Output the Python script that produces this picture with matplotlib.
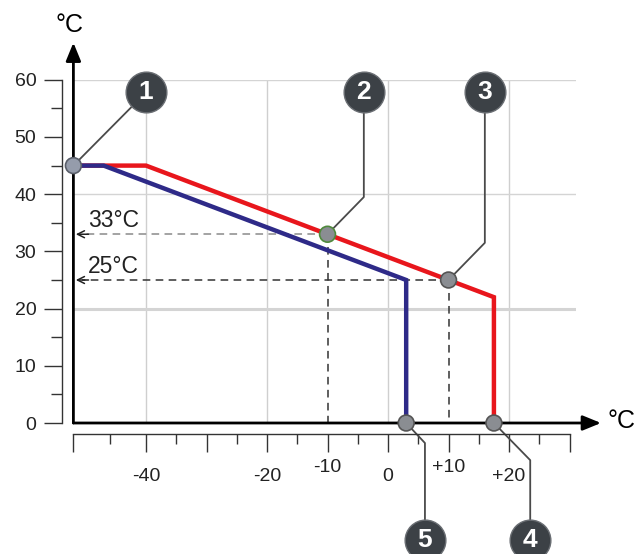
import numpy as np
import matplotlib.pyplot as plt

plt.rcParams["font.family"] = ["Liberation Sans", "DejaVu Sans"]

# heating curves: outdoor temperature -> flow temperature
red_x = [-52, -40, 17.5, 17.5]
red_y = [45, 45, 22, 0]
blue_x = [-52, -47, 3, 3]
blue_y = [45, 45, 25, 0]

# numbered points
pt_x = [-52, -10, 10, 17.5, 3]
pt_y = [45, 33, 25, 0, 0]
pt_num = ["1", "2", "3", "4", "5"]

# read-off values (dashed guides)
read_x = [-10, 10]
read_y = [33, 25]
read_lbl = ["33°C", "25°C"]

# rulers
x_major = [-52, -40, -30, -20, -10, 0, 10, 20, 30]
x_labels = ["", "-40", "", "-20", "-10", "0", "+10", "+20", ""]
x_minor = [-46, -35, -25, -15, -5, 5, 15, 25]
y_major = [0, 10, 20, 30, 40, 50, 60]
y_minor = [5, 15, 25, 35, 45, 55]
grid_x = [-40, -20, 0, 20]
grid_y = [20, 40, 60]

# callout bubbles: centre and elbow of leader line
bubble_xy = [(-40, 57.8), (-4, 57.8), (16, 57.8), (23.5, -20.5), (6.1, -20.5)]
elbow_xy = [None, (-4, 39.5), (16, 31.5), (23.5, -6.5), (6.1, -3.5)]

fig = plt.figure(figsize=(6.37, 5.54), dpi=100)
ax = fig.add_axes([73.4 / 637, 131 / 554, 502.2 / 637, 343.2 / 554])
ax.set_xlim(-52, 31)
ax.set_ylim(0, 60)

for s in ["top", "right"]:
    ax.spines[s].set_visible(False)
ax.spines["left"].set_position(("outward", 8.2))
ax.spines["bottom"].set_position(("outward", 7.9))
ax.spines["left"].set_bounds(0, 60)
ax.spines["bottom"].set_bounds(-52, 30)
for s in ["left", "bottom"]:
    ax.spines[s].set_color("#333333")
    ax.spines[s].set_linewidth(1.0)

ax.set_xticks(x_major, x_labels)
ax.set_xticks(x_minor, minor=True)
ax.set_yticks(y_major)
ax.set_yticks(y_minor, minor=True)
ax.tick_params(axis="both", which="major", direction="out", color="#333333",
               width=1.0, labelsize=14, labelcolor="#222222")
ax.tick_params(axis="x", which="major", length=13, pad=11.5)
ax.tick_params(axis="x", which="minor", length=7.5, width=1.0, color="#333333")
ax.tick_params(axis="y", which="major", length=13, pad=5.5)
ax.tick_params(axis="y", which="minor", length=8, width=1.0, color="#333333")
for t, lbl in zip(ax.xaxis.get_major_ticks(), x_labels):
    if lbl in ("-10", "+10"):
        t.set_pad(5)

# light grid
for gx in grid_x:
    ax.plot([gx, gx], [0, 60], color="#cfcfcf", lw=1.0, zorder=1)
for gy in grid_y:
    ax.plot([-52, 31], [gy, gy], color="#d4d4d4", lw=2.2 if gy == 20 else 1.0, zorder=1)

# main axes with arrows
arrow_kw = dict(arrowstyle="-|>,head_length=1.1,head_width=0.45", color="black",
                lw=2.0, shrinkA=0, shrinkB=0)
ax.annotate("", xy=(-52, 66.5), xytext=(-52, 0), arrowprops=arrow_kw,
            annotation_clip=False, zorder=3)
ax.annotate("", xy=(35.2, 0), xytext=(-52, 0), arrowprops=arrow_kw,
            annotation_clip=False, zorder=3)
ax.text(-52.6, 69.5, "°C", fontsize=18, ha="center", va="center", clip_on=False)
ax.text(36.3, 0.4, "°C", fontsize=18, ha="left", va="center", clip_on=False)

# dashed read-off guides
dash_col = ["#8a8a8a", "#333333"]
for rx, ry, lbl, c in zip(read_x, read_y, read_lbl, dash_col):
    ax.plot([rx, -50.5], [ry, ry], ls=(0, (5, 3.5)), color=c, lw=1.1, zorder=2)
    ax.plot([rx, rx], [ry, 0], ls=(0, (5, 3.5)), color="#333333", lw=1.1, zorder=2)
    ax.annotate("", xy=(-51.6, ry), xytext=(-49.5, ry),
                arrowprops=dict(arrowstyle="->,head_length=0.5,head_width=0.25",
                                color="#222222", lw=1.1, shrinkA=0, shrinkB=0),
                zorder=3)
    ax.text(-49.6, ry + 1.2, lbl, fontsize=16.5, ha="left", va="baseline", color="#222222")

# curves
ax.plot(red_x, red_y, color="#e8161c", lw=3.2, solid_joinstyle="miter", zorder=3)
ax.plot(blue_x, blue_y, color="#2e2a88", lw=3.2, solid_joinstyle="miter", zorder=3)

# leader lines and bubbles
for (px, py), (bx, by), el in zip(zip(pt_x, pt_y), bubble_xy, elbow_xy):
    if el is None:
        lx, ly = [px, bx], [py, by]
    else:
        lx, ly = [px, el[0], bx], [py, el[1], by]
    ax.plot(lx, ly, color="#4a4a4a", lw=1.3, zorder=2, clip_on=False)

edge_col = ["#5a5f6a", "#4f8a3c", "#555555", "#555555", "#555555"]
face_col = ["#959cab", "#8a8d92", "#8a8d92", "#8a8d92", "#8a8d92"]
ax.scatter(pt_x, pt_y, s=130, c=face_col, edgecolors=edge_col, linewidths=1.2,
           zorder=5, clip_on=False)

bx_list = [b[0] for b in bubble_xy]
by_list = [b[1] for b in bubble_xy]
ax.scatter(bx_list, by_list, s=860, c="#3c4146", edgecolors="#6a6e73",
           linewidths=1.0, zorder=6, clip_on=False)
for (bx, by), n in zip(bubble_xy, pt_num):
    ax.text(bx, by, n, color="white", fontsize=19, fontweight="bold",
            ha="center", va="center", zorder=7, clip_on=False)

plt.savefig("out.png", dpi=100)
